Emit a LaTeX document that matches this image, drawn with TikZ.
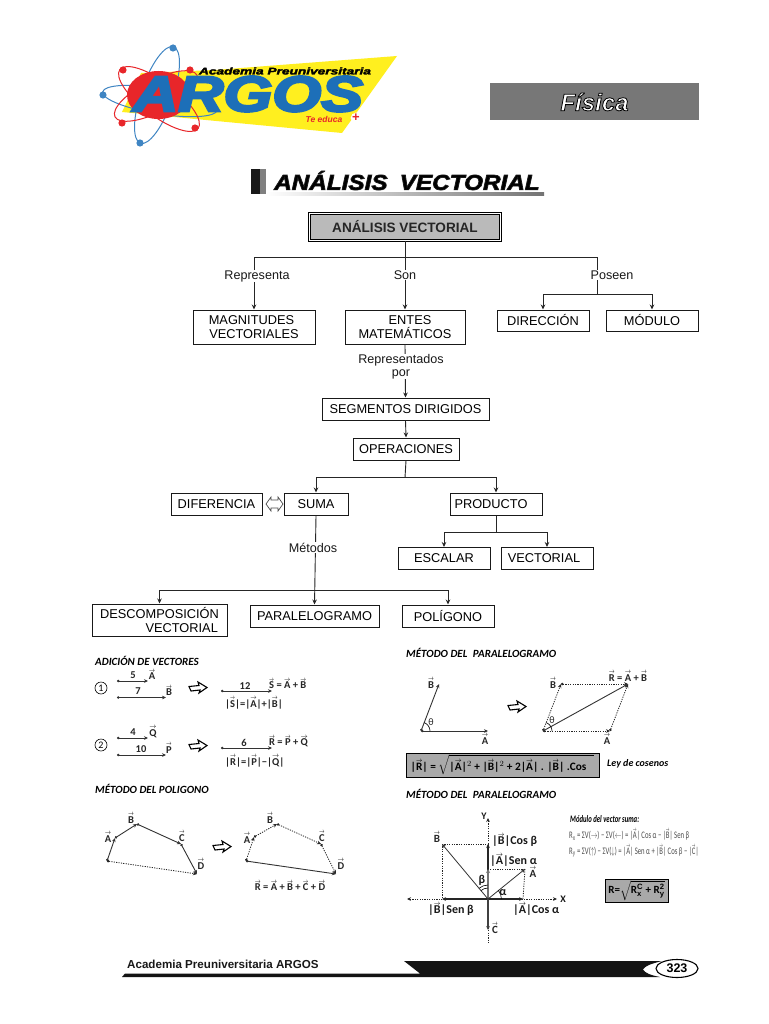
\documentclass[tikz,border=0pt]{standalone}
\usepackage{fontspec}
\usepackage{amsmath}
\setmainfont{Liberation Sans}
\newfontfamily\calfont{Carlito}
\usetikzlibrary{arrows.meta,shapes.geometric}
\definecolor{logoblue}{HTML}{1D6FB8}
\definecolor{logored}{HTML}{E8262A}
\definecolor{logoyellow}{HTML}{FFEF1F}
\definecolor{boxgray}{HTML}{A9A9A9}
\definecolor{fisgray}{HTML}{777777}
\newcommand\vv[1]{\leavevmode\setbox0=\hbox{#1}\hbox to \wd0{\rlap{\raisebox{\dimexpr\ht0+.6pt}{\resizebox{\wd0}{2.6pt}{$\boldsymbol{\rightarrow}$}}}\box0}}
\newcommand\strk[3]{\special{pdf:code 2 Tr #1 w #2 RG}#3\special{pdf:code 0 Tr}}
\tikzset{
  fbox/.style={draw=black!90,line width=1pt,fill=white,inner sep=0pt,align=center,font=\fontsize{12.8}{13.2}\selectfont},
  flab/.style={fill=white,inner xsep=1pt,inner ysep=.5pt,align=center,font=\fontsize{12.6}{12.6}\selectfont,text=black!90},
  conn/.style={line width=.9pt,draw=black!85},
  arr/.style={conn,-{Stealth[length=5pt,width=4.5pt]}},
  vlab/.style={inner sep=0pt,font=\calfont\bfseries\fontsize{10.5}{11}\selectfont,text=black!85},
  big/.style={inner sep=0pt,font=\calfont\bfseries\fontsize{12}{13}\selectfont,text=black!90},
  head/.style={inner sep=0pt,anchor=west,font=\calfont\bfseries\itshape\fontsize{11}{12}\selectfont},
  veca/.style={line width=.9pt,draw=black!80,{Circle[length=2.4pt]}-{Stealth[length=4pt,width=3.6pt]}},
  dott/.style={line width=.8pt,draw=black!85,dash pattern=on 1.2pt off 1.2pt},
  dotv/.style={dott,{Circle[length=2.4pt]}-{Stealth[length=4pt,width=3.6pt]}},
  orbr/.style={draw=logored,line width=1pt},
  orbb/.style={draw=logoblue!85,line width=1pt},
  pics/hollow/.style={code={
    \draw[line width=1.1pt,draw=black,fill=white,line join=miter]
      (-9,-1.5) -- (1,-2.5) -- (0,-6) -- (9,-.5) -- (1,5) -- (2,2) -- (-7,3) -- cycle;
  }},
}
\begin{document}
\begin{tikzpicture}[x=1pt,y=-1pt]
\useasboundingbox (0,0) rectangle (768,1024);
\fill[white] (0,0) rectangle (768,1024);

% ---------- logo
\fill[logoyellow] (141,73) -- (215,70) -- (397,56) -- (342,133) -- (122,112) -- cycle;
\draw[orbb,rotate around={-9:(160,101)}] (160,101) ellipse [x radius=58,y radius=13];
\draw[orbb,rotate around={71:(157,95)}] (157,95) ellipse [x radius=51,y radius=16];
\draw[orbr,rotate around={-37:(159,99)}] (159,99) ellipse [x radius=49,y radius=17];
\draw[orbr,rotate around={27:(156,96)}] (156,96) ellipse [x radius=46,y radius=16];
\fill[logored] (158.5,95) ellipse [x radius=31.5,y radius=24];
\foreach \p in {(123,70),(190,70),(122,123),(195,128)} \fill[logored] \p circle (3.6);
\foreach \p in {(173,48),(103,95),(140,143)} \fill[logoblue!85] \p circle (3.6);
\node[inner sep=0pt] (argos) at (248,94) {\resizebox{230pt}{35pt}{\color{logoblue}\bfseries\itshape\strk{.45}{.114 .435 .722}{ARGOS}}};
\node[inner sep=0pt] (acad) at (285,71) {\resizebox{172pt}{7pt}{\bfseries\itshape\strk{.25}{0 0 0}{Academia Preuniversitaria}}};
\node[inner sep=0pt,text=logored,font=\fontsize{8.5}{9}\bfseries\itshape\selectfont] (educa) at (324,119) {Te educa};
\node[circle,fill=white,minimum size=10pt,inner sep=0pt,text=logored,font=\fontsize{13}{13}\bfseries\selectfont] (plus) at (356,118) {+};

% ---------- Fisica
\node[fill=fisgray,minimum width=209pt,minimum height=37pt,inner sep=0pt,text=white,font=\fontsize{24}{24}\bfseries\itshape\selectfont] (fis) at (594.5,102) {\strk{.8}{0 0 0}{Física}};

% ---------- title
\fill[black!90] (251,169) rectangle (260,194);
\fill[black!50] (260,169) rectangle (266,194);
\shade[left color=white,right color=black!55] (266,193) rectangle (544,196);
\node[inner sep=0pt,anchor=west,font=\fontsize{21.5}{22}\bfseries\itshape\selectfont] (title) at (274,180.5)
  {\scalebox{1.13}[1]{\strk{.7}{.1 .1 .1}{ANÁLISIS\hspace{.5em}VECTORIAL}}};

% ---------- flowchart nodes
\node[draw=black,line width=.8pt,double=white,double distance=1.6pt,fill=black!27,minimum width=191pt,minimum height=27pt,inner sep=0pt,font=\bfseries\fontsize{13.6}{14}\selectfont,text=black!85] (top) at (405,227) {ANÁLISIS VECTORIAL};
\node[fbox,minimum width=122pt,minimum height=34pt] (mag) at (254,327) {\hspace*{-5pt}MAGNITUDES\\VECTORIALES};
\node[fbox,minimum width=120pt,minimum height=34pt] (ent) at (405,327) {\hspace*{10pt}ENTES\\MATEMÁTICOS};
\node[fbox,minimum width=92pt,minimum height=21pt] (dir) at (543,320.5) {DIRECCIÓN};
\node[fbox,minimum width=92pt,minimum height=21pt] (mod) at (652,320.5) {MÓDULO};
\node[fbox,minimum width=167pt,minimum height=22pt] (seg) at (405.5,409) {SEGMENTOS DIRIGIDOS};
\node[fbox,minimum width=106pt,minimum height=22pt] (ope) at (406,449) {OPERACIONES};
\node[fbox,minimum width=91pt,minimum height=22pt] (dif) at (216.5,504) {DIFERENCIA};
\node[fbox,minimum width=64pt,minimum height=22pt] (sum) at (316,504) {SUMA};
\node[fbox,minimum width=92pt,minimum height=22pt] (pro) at (496,504) {\hspace*{-10pt}PRODUCTO};
\node[fbox,minimum width=92pt,minimum height=22pt] (esc) at (444,558.5) {ESCALAR};
\node[fbox,minimum width=92pt,minimum height=22pt] (vec) at (547,558.5) {\hspace*{-6pt}VECTORIAL};
\node[fbox,minimum width=135pt,minimum height=32pt,align=right] (des) at (159.5,620) {DESCOMPOSICIÓN\\VECTORIAL\hspace*{1pt}};
\node[fbox,minimum width=129pt,minimum height=22pt] (par) at (314.5,616) {PARALELOGRAMO};
\node[fbox,minimum width=92pt,minimum height=22pt] (pol) at (448,616) {POLÍGONO};

% ---------- flowchart connectors
\coordinate (j1) at (405,257.5);
\coordinate (j2) at (597,294.5);
\coordinate (j3) at (405,477.5);
\coordinate (j4) at (496,532.5);
\coordinate (j5) at (316,590.5);
\draw[conn] (top.south) -- (j1);
\draw[arr] (j1) -| (mag.north);
\draw[arr] (j1) -- (ent.north);
\draw[conn] (j1) -| (j2);
\draw[arr] (j2) -| (dir.north);
\draw[arr] (j2) -| (mod.north);
\draw[arr] (ent.south) -- (seg.north);
\draw[arr] (seg.south) -- (ope.north);
\draw[conn] (ope.south) -- (j3);
\draw[arr] (j3) -| (sum.north);
\draw[arr] (j3) -| (pro.north);
\draw[conn] (pro.south) -- (j4);
\draw[arr] (j4) -| (esc.north);
\draw[arr] (j4) -| (vec.north);
\draw[arr] (sum.south) -- (par.north);
\draw[arr] (j5) -| (des.north);
\draw[arr] (j5) -| (pol.north);
\draw[line width=.7pt,draw=black!70,fill=white] (266,504) -- (271,497) -- (271,500) -- (278,500) -- (278,497) -- (283,504) -- (278,511) -- (278,508) -- (271,508) -- (271,511) -- cycle;
\node[flab,anchor=base] (l1) at (257,279) {Representa};
\node[flab,anchor=base] (l2) at (405,279) {Son};
\node[flab,anchor=base] (l3) at (612,279) {Poseen};
\node[flab] (l4) at (401,366.5) {Representados\\por};
\node[flab,anchor=base] (l5) at (313,552) {Métodos};

% ---------- adicion
\node[head] (h1) at (95,660.5) {ADICIÓN DE VECTORES};
\node[circle,draw=black,line width=.6pt,inner sep=0pt,minimum size=12pt,font=\calfont\fontsize{10}{10}\selectfont] (c1) at (101,688) {1};
\coordinate (a1) at (117,681); \coordinate (a2) at (148,681);
\coordinate (b1) at (117,697.5); \coordinate (b2) at (166,697.5);
\coordinate (s1) at (221,691); \coordinate (s2) at (272,691);
\draw[veca] (a1) -- (a2);
\draw[veca] (b1) -- (b2);
\draw[veca] (s1) -- (s2);
\node[vlab] (n5) at (133,675) {5};
\node[vlab] (va) at (152,674.5) {\vv{A}};
\node[vlab] (n7) at (138,691) {7};
\node[vlab] (vb) at (169,690.5) {\vv{B}};
\pic at (198,688) {hollow};
\node[vlab] (n12) at (245,686) {12};
\node[vlab,anchor=west] (se) at (269,683.5) {\vv{S} = \vv{A} + \vv{B}};
\node[vlab,anchor=west] (sm) at (225,703) {|\vv{S}|=|\vv{A}|+|\vv{B}|};

\node[circle,draw=black,line width=.6pt,inner sep=0pt,minimum size=12pt,font=\calfont\fontsize{10}{10}\selectfont] (c2) at (101,745) {2};
\coordinate (q1) at (117,738); \coordinate (q2) at (148,738);
\coordinate (p1) at (117,755); \coordinate (p2) at (166,755);
\coordinate (r1) at (221,748); \coordinate (r2) at (272,748);
\draw[veca] (q1) -- (q2);
\draw[veca] (p1) -- (p2);
\draw[veca] (r1) -- (r2);
\node[vlab] (n4) at (133,732.5) {4};
\node[vlab] (vq) at (153,732) {\vv{Q}};
\node[vlab] (n10) at (141,749.5) {10};
\node[vlab] (vp) at (169,748) {\vv{P}};
\pic at (198,746) {hollow};
\node[vlab] (n6) at (244,743) {6};
\node[vlab,anchor=west] (re) at (269,741.5) {\vv{R} = \vv{P} + \vv{Q}};
\node[vlab,anchor=west] (rm) at (225,761) {|\vv{R}|=|\vv{P}|−|\vv{Q}|};

% ---------- poligono
\node[head] (h2) at (95,789) {MÉTODO DEL POLIGONO};
\coordinate (o0) at (107,861); \coordinate (oa) at (115,838); \coordinate (ob) at (137,824); \coordinate (oc) at (181,844); \coordinate (od) at (197,874);
\draw[veca] (o0) -- (oa);
\draw[veca] (oa) -- (ob);
\draw[veca] (ob) -- (oc);
\draw[veca] (oc) -- (od);
\draw[dotv] (o0) -- (od);
\node[vlab] (pa) at (108,837) {\vv{A}};
\node[vlab] (pb) at (131,818) {\vv{B}};
\node[vlab] (pc) at (182,836) {\vv{C}};
\node[vlab] (pd) at (201,864) {\vv{D}};
\pic at (222,847) {hollow};
\coordinate (u0) at (246,861); \coordinate (ua) at (254,837); \coordinate (ub) at (277,824); \coordinate (uc) at (321,844); \coordinate (ud) at (336,874);
\draw[dotv] (u0) -- (ua);
\draw[dotv] (ua) -- (ub);
\draw[dotv] (ub) -- (uc);
\draw[dotv] (uc) -- (ud);
\draw[veca] (u0) -- (ud);
\node[vlab] (qa) at (247,838) {\vv{A}};
\node[vlab] (qb) at (270,818) {\vv{B}};
\node[vlab] (qc) at (322,836) {\vv{C}};
\node[vlab] (qd) at (341,864) {\vv{D}};
\node[vlab] (qr) at (290,885.5) {\vv{R} = \vv{A} + \vv{B} + \vv{C} + \vv{D}};

% ---------- paralelogramo 1
\node[head] (h3) at (406,652.5) {MÉTODO DEL\hspace{.5em}PARALELOGRAMO};
\coordinate (t0) at (421,731); \coordinate (ta) at (488,731); \coordinate (tb) at (439,684);
\draw[veca] (t0) -- (ta);
\draw[veca] (t0) -- (tb);
\draw[line width=.6pt] ([shift={(9,0)}]t0) arc[start angle=0,end angle=-70,radius=9];
\node[vlab] (tlb) at (431,683) {\vv{B}};
\node[vlab] (tla) at (485,739) {\vv{A}};
\node[vlab,font=\calfont\fontsize{10}{10}\selectfont] (tth) at (431,722) {θ};
\pic at (517,707) {hollow};
\coordinate (w0) at (543,731); \coordinate (wa) at (610,731); \coordinate (wb) at (561,684); \coordinate (wr) at (628,684);
\draw[dotv] (w0) -- (wa);
\draw[dotv] (w0) -- (wb);
\draw[dotv] (wb) -- (wr);
\draw[dotv] (wa) -- (wr);
\draw[veca] (w0) -- (wr);
\draw[line width=.6pt] ([shift={(9,0)}]w0) arc[start angle=0,end angle=-70,radius=9];
\node[vlab] (wlb) at (553,683) {\vv{B}};
\node[vlab] (wla) at (607,739) {\vv{A}};
\node[vlab,font=\calfont\fontsize{10}{10}\selectfont] (wth) at (552,720) {θ};
\node[vlab] (wlr) at (628,676) {\vv{R} = \vv{A} + \vv{B}};
\node[draw=black,line width=1pt,fill=boxgray,minimum width=193pt,minimum height=24pt,inner sep=0pt,font=\calfont\bfseries\fontsize{11.3}{13}\selectfont] (fbx) at (502.5,765)
  {|\vv{R}| = $\sqrt{\mbox{|\vv{A}|$^{2}$ + |\vv{B}|$^{2}$ + 2|\vv{A}| . |\vv{B}| .Cos\hspace{8pt}}}$\hspace{8pt}};
\node[inner sep=0pt,anchor=west,font=\calfont\bfseries\itshape\fontsize{10}{11}\selectfont] (ley) at (607,764) {Ley de cosenos};

% ---------- paralelogramo 2
\node[head] (h4) at (406,793.5) {MÉTODO DEL\hspace{.5em}PARALELOGRAMO};
\coordinate (z) at (488,899);
\coordinate (yt) at (488,818); \coordinate (yb) at (488,943);
\coordinate (xl) at (407,899); \coordinate (xr) at (557,899);
\coordinate (bx) at (442,899); \coordinate (ax) at (523,899);
\coordinate (by) at (488,844); \coordinate (ay) at (488,869);
\coordinate (bt) at (442,844); \coordinate (at) at (525,869);
\coordinate (cc) at (488,930);
\draw[dott,-{Stealth[length=4pt,width=3.6pt]}] (z) -- (yt);
\draw[dott] (z) -- (yb);
\draw[dott,-{Stealth[length=4pt,width=3.6pt]}] (z) -- (xl);
\draw[dott,-{Stealth[length=4pt,width=3.6pt]}] (z) -- (xr);
\draw[dott] (bt) -- (by);
\draw[dott] (bt) -- (bx);
\draw[dott] (at) -- (ay);
\draw[dott] (at) -- (ax);
\draw[line width=1.1pt,draw=black!85,-{Stealth[length=4pt,width=3.6pt]}] (z) -- (by);
\draw[line width=2.2pt,draw=black!55,-{Stealth[length=4pt,width=4pt]}] (z) -- (ay);
\draw[line width=1.1pt,draw=black!85,-{Stealth[length=4pt,width=3.6pt]}] (z) -- (bx);
\draw[line width=1.1pt,draw=black!85,-{Stealth[length=4pt,width=3.6pt]}] (z) -- (ax);
\draw[line width=1.1pt,draw=black!75,-{Stealth[length=4pt,width=3.6pt]}] (z) -- (cc);
\draw[line width=.8pt,draw=black!80,-{Stealth[length=4pt,width=3.6pt]}] (z) -- (bt);
\draw[line width=.8pt,draw=black!80,-{Stealth[length=4pt,width=3.6pt]}] (z) -- (at);
\draw[line width=.6pt] ([shift={(10,-9)}]z) arc[start angle=-42,end angle=0,radius=13.4];
\draw[line width=.6pt] ([shift={(0,-11)}]z) arc[start angle=-90,end angle=-130,radius=11];
\draw[line width=.6pt] ([shift={(0,-14)}]z) arc[start angle=-90,end angle=-130,radius=14];
\node[big,font=\calfont\bfseries\fontsize{10}{10}\selectfont] (ly) at (484,816) {Y};
\node[big,anchor=west] (bcb) at (492,840) {|\vv{B}|Cos β};
\node[vlab,font=\calfont\bfseries\fontsize{11}{11}\selectfont] (lb) at (437,837) {\vv{B}};
\node[big,anchor=west] (asa) at (490,860) {|\vv{A}|Sen α};
\node[vlab,font=\calfont\bfseries\fontsize{11}{11}\selectfont] (la) at (533,872) {\vv{A}};
\node[big] (beta) at (482,880) {β};
\node[big] (alfa) at (503,893) {α};
\node[big,font=\calfont\bfseries\fontsize{10}{10}\selectfont] (lx) at (563,899) {X};
\node[big,anchor=west] (bsb) at (428,909) {|\vv{B}|Sen β};
\node[big,anchor=west] (aca) at (513,909) {|\vv{A}|Cos α};
\node[vlab,font=\calfont\bfseries\fontsize{11}{11}\selectfont] (lc) at (495,928) {\vv{C}};
\node[inner sep=0pt,anchor=west,font=\calfont\bfseries\itshape\fontsize{10}{11}\selectfont] (mod1) at (570,819) {\scalebox{.67}[1]{Módulo del vector suma:}};
\node[inner sep=0pt,anchor=west,text=black!70,font=\calfont\fontsize{10}{11}\selectfont] (mod2) at (569,835) {\scalebox{.67}[1]{R$_{\mathrm{x}}$ = ΣV($\rightarrow$) − ΣV($\leftarrow$) = |\vv{A}| Cos α − |\vv{B}| Sen β}};
\node[inner sep=0pt,anchor=west,text=black!70,font=\calfont\fontsize{10}{11}\selectfont] (mod3) at (569,851) {\scalebox{.67}[1]{R$_{\mathrm{y}}$ = ΣV($\uparrow$) − ΣV($\downarrow$) = |\vv{A}| Sen α + |\vv{B}| Cos β − |\vv{C}|}};
\node[draw=black,line width=1pt,fill=boxgray,minimum width=63pt,minimum height=23pt,inner sep=0pt,font=\calfont\bfseries\fontsize{11}{12}\selectfont] (fb2) at (636.5,890.5)
  {R=$\sqrt{\mbox{R$_{\mathbf{x}}^{\mathbf{C}}$ + R$_{\mathbf{y}}^{\mathbf{2}}$}}$};

% ---------- pie
\node[inner sep=0pt,anchor=west,font=\bfseries\fontsize{11.6}{12}\selectfont,text=black!90] (foot) at (127,964) {Academia Preuniversitaria ARGOS};
\fill[black!92] (122,977) -- (125,973.5) -- (420,973.5) -- (404,961) -- (662,961) .. controls (650,964) and (645,966) .. (643,969.5) .. controls (645,973) and (650,975) .. (660,977) -- cycle;
\node[draw=black,ellipse,line width=1.1pt,minimum width=42pt,minimum height=18pt,inner sep=0pt,font=\bfseries\fontsize{12.5}{12.5}\selectfont] (pg) at (677,968.5) {323};
\end{tikzpicture}
\end{document}
